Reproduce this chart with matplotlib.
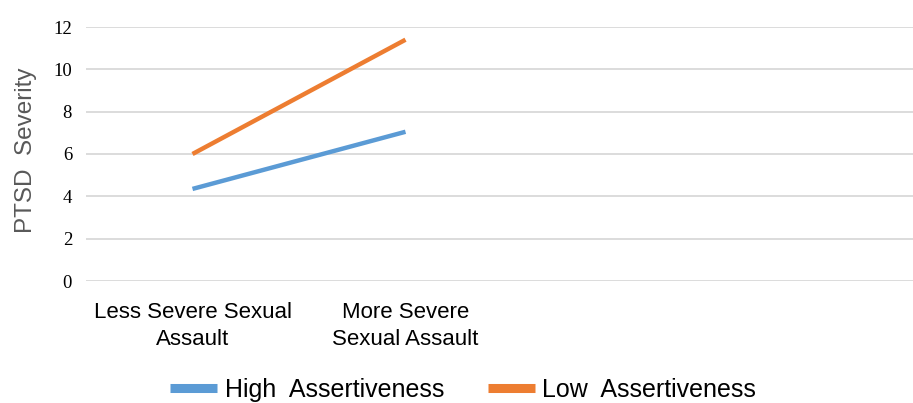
import matplotlib
matplotlib.use("Agg")
import matplotlib.pyplot as plt

categories = ["Less Severe Sexual\nAssault", "More Severe\nSexual Assault", "", ""]
high_assert = [4.35, 7.05]
low_assert = [6.0, 11.4]
yticks = [0, 2, 4, 6, 8, 10, 12]

fig = plt.figure(figsize=(9.13, 4.03), dpi=100)
ax = fig.add_axes([86/913, 122/403, 852/913, (281 - 27)/403])

x = list(range(len(categories)))
ax.plot(x[:len(high_assert)], high_assert, color="#5B9BD5", lw=3.2, solid_capstyle="butt", label="High  Assertiveness")
ax.plot(x[:len(low_assert)], low_assert, color="#ED7D31", lw=3.2, solid_capstyle="butt", label="Low  Assertiveness")

ax.set_xlim(-0.5, len(categories) - 0.5)
ax.set_ylim(0, 12)
ax.set_yticks(yticks)
ax.set_yticklabels([str(v) for v in yticks], family="Liberation Serif", fontsize=13.5)
ax.set_xticks(x)
ax.set_xticklabels(categories, family="Liberation Sans", fontsize=16, linespacing=1.4)
ax.tick_params(axis="both", length=0)
ax.tick_params(axis="y", pad=10)
ax.tick_params(axis="x", pad=15)
ax.grid(axis="y", color="#D9D9D9", lw=1.3)
ax.set_axisbelow(True)
for s in ax.spines.values():
    s.set_visible(False)

ax.set_ylabel("PTSD  Severity", family="Liberation Sans", fontsize=17.5, color="#595959")
ax.yaxis.set_label_coords(-0.058, 0.516)

leg = fig.legend(loc="center", bbox_to_anchor=(463/913, 13/403), ncol=2, frameon=False,
                 prop={"family": "Liberation Sans", "size": 18}, handlelength=1.88, columnspacing=1.75,
                 handletextpad=0.3)
for h in leg.legend_handles:
    h.set_linewidth(6.5)

fig.savefig("out.png", dpi=100)
